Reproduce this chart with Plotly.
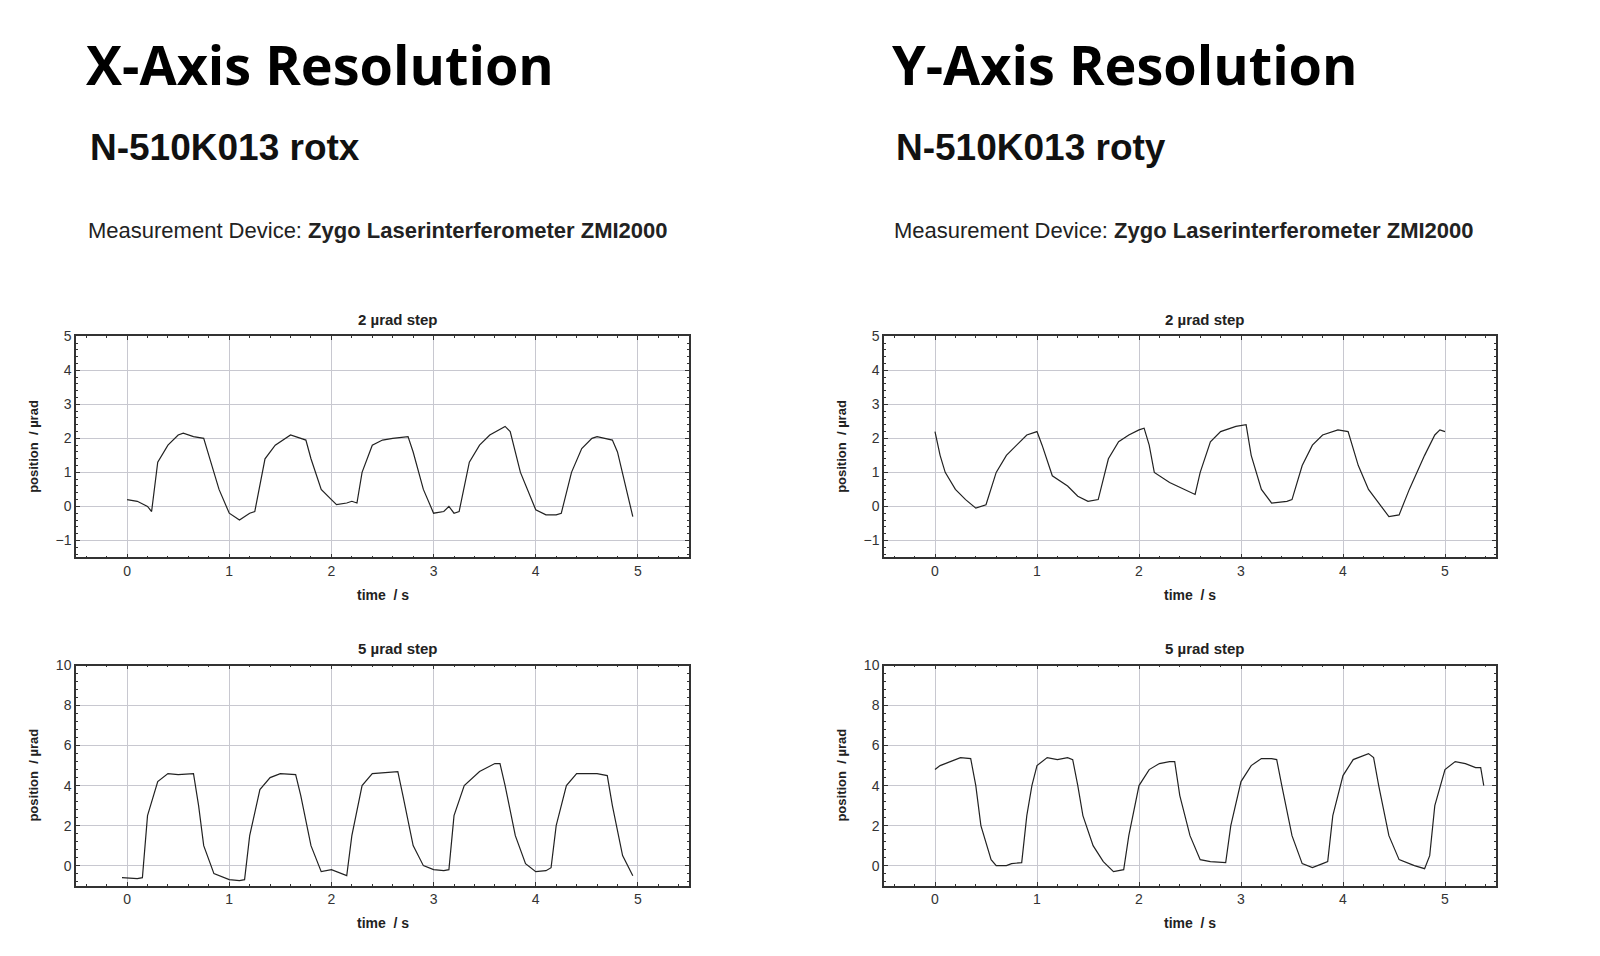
import plotly.graph_objects as go

t_x2 = [0,0.1,0.2,0.24,0.3,0.4,0.5,0.55,0.65,0.75,0.8,0.9,1.0,1.1,1.2,1.25,1.35,1.45,1.6,1.75,1.8,1.9,2.0,2.05,2.15,2.2,2.25,2.3,2.4,2.5,2.6,2.75,2.8,2.9,3.0,3.1,3.15,3.2,3.25,3.35,3.45,3.55,3.7,3.75,3.85,3.95,4.0,4.1,4.2,4.25,4.35,4.45,4.55,4.6,4.75,4.8,4.9,4.95]
p_x2 = [0.2,0.15,0.0,-0.15,1.3,1.8,2.1,2.15,2.05,2.0,1.5,0.5,-0.2,-0.4,-0.2,-0.15,1.4,1.8,2.1,1.95,1.4,0.5,0.2,0.05,0.1,0.15,0.1,1.0,1.8,1.95,2.0,2.05,1.6,0.5,-0.2,-0.15,0.0,-0.2,-0.15,1.3,1.8,2.1,2.35,2.2,1.0,0.3,-0.1,-0.25,-0.25,-0.2,1.0,1.7,2.0,2.05,1.95,1.6,0.3,-0.3]

t_x5 = [-0.05,0.1,0.15,0.2,0.3,0.4,0.5,0.6,0.65,0.7,0.75,0.85,1.0,1.1,1.15,1.2,1.3,1.4,1.5,1.65,1.7,1.8,1.9,2.0,2.1,2.15,2.2,2.3,2.4,2.6,2.65,2.7,2.8,2.9,3.0,3.1,3.15,3.2,3.3,3.45,3.6,3.65,3.7,3.8,3.9,4.0,4.1,4.15,4.2,4.3,4.4,4.6,4.7,4.75,4.85,4.95]
p_x5 = [-0.6,-0.65,-0.6,2.5,4.2,4.6,4.55,4.6,4.6,3.0,1.0,-0.4,-0.7,-0.75,-0.7,1.5,3.8,4.4,4.6,4.55,3.5,1.0,-0.3,-0.2,-0.4,-0.5,1.5,4.0,4.6,4.7,4.7,3.5,1.0,0.0,-0.2,-0.25,-0.2,2.5,4.0,4.7,5.1,5.1,4.0,1.5,0.1,-0.3,-0.25,-0.1,2.0,4.0,4.6,4.6,4.5,3.0,0.5,-0.5]

t_y2 = [0,0.05,0.1,0.2,0.3,0.4,0.5,0.6,0.7,0.8,0.9,1.0,1.05,1.15,1.3,1.4,1.5,1.6,1.7,1.8,1.9,2.0,2.05,2.1,2.15,2.3,2.45,2.55,2.6,2.7,2.8,2.95,3.05,3.1,3.2,3.3,3.45,3.5,3.6,3.7,3.8,3.95,4.05,4.15,4.25,4.35,4.45,4.55,4.65,4.8,4.9,4.95,5.0]
p_y2 = [2.2,1.5,1.0,0.5,0.2,-0.05,0.05,1.0,1.5,1.8,2.1,2.2,1.8,0.9,0.6,0.3,0.15,0.2,1.4,1.9,2.1,2.25,2.3,1.8,1.0,0.7,0.5,0.35,1.0,1.9,2.2,2.35,2.4,1.5,0.5,0.1,0.15,0.2,1.2,1.8,2.1,2.25,2.2,1.2,0.5,0.1,-0.3,-0.25,0.5,1.5,2.1,2.25,2.2]

t_y5 = [0,0.05,0.15,0.25,0.35,0.4,0.45,0.55,0.6,0.7,0.75,0.85,0.9,0.95,1.0,1.1,1.2,1.3,1.35,1.4,1.45,1.55,1.65,1.75,1.85,1.9,2.0,2.1,2.2,2.3,2.35,2.4,2.5,2.6,2.7,2.85,2.9,3.0,3.1,3.2,3.3,3.35,3.4,3.5,3.6,3.7,3.8,3.85,3.9,4.0,4.1,4.25,4.3,4.35,4.45,4.55,4.7,4.8,4.85,4.9,5.0,5.1,5.2,5.3,5.35,5.38]
p_y5 = [4.8,5.0,5.2,5.4,5.35,4.0,2.0,0.3,0.0,0.0,0.1,0.15,2.5,4.0,5.0,5.4,5.3,5.4,5.3,4.0,2.5,1.0,0.2,-0.3,-0.2,1.5,4.0,4.8,5.1,5.2,5.2,3.5,1.5,0.3,0.2,0.15,2.0,4.2,5.0,5.35,5.35,5.3,4.0,1.5,0.1,-0.1,0.1,0.2,2.5,4.5,5.3,5.6,5.4,4.0,1.5,0.3,0.0,-0.15,0.5,3.0,4.8,5.2,5.1,4.9,4.9,4.0]

W, H = 1600, 956
def px(x): return x / W
def py(y): return 1 - y / H

panels = [
    (t_x2, p_x2, 68, 681, 323, 546, [-1.5, 5], 1, "2 µrad step"),
    (t_x5, p_x5, 68, 681, 655, 877, [-1, 10], 2, "5 µrad step"),
    (t_y2, p_y2, 876, 1488, 323, 546, [-1.5, 5], 1, "2 µrad step"),
    (t_y5, p_y5, 876, 1488, 655, 877, [-1, 10], 2, "5 µrad step"),
]

fig = go.Figure()
ann = []
layout = {}

def A(text, x, y, size, family="Liberation Sans", xanchor="center", angle=0, color="#222"):
    return dict(text=text, x=px(x), y=py(y), xref="paper", yref="paper", xanchor=xanchor,
                yanchor="middle", textangle=angle, showarrow=False,
                font=dict(family=family, size=size, color=color))

for i, (t, p, x0, x1, y0, y1, yr, dt, title) in enumerate(panels, start=1):
    xa = "x" if i == 1 else f"x{i}"
    ya = "y" if i == 1 else f"y{i}"
    fig.add_trace(go.Scatter(x=t, y=p, mode="lines", xaxis=xa, yaxis=ya,
                             line=dict(color="#222", width=1.2), showlegend=False))
    axstyle = dict(showline=True, linecolor="#333", linewidth=1.5, mirror="ticks",
                   ticks="inside", ticklen=4, tickcolor="#333",
                   showgrid=True, gridcolor="#c8c8d0", gridwidth=1, zeroline=False,
                   tickfont=dict(family="Liberation Sans", size=14, color="#333"))
    layout["xaxis" if i == 1 else f"xaxis{i}"] = dict(
        domain=[px(x0), px(x1)], range=[-0.5, 5.5], dtick=1, tick0=0,
        anchor=ya, minor=dict(dtick=0.2, ticks="inside", ticklen=2, tickcolor="#333"),
        **axstyle)
    layout["yaxis" if i == 1 else f"yaxis{i}"] = dict(
        domain=[py(y1), py(y0)], range=yr, dtick=dt, tick0=0, anchor=xa,
        minor=dict(dtick=dt / 5, ticks="inside", ticklen=2, tickcolor="#333"),
        **axstyle)
    xc = (x0 + x1) / 2
    ann.append(A(f"<b>{title}</b>", xc + 15, y0 - 17, 15))
    ann.append(A("<b>time  / s</b>", xc, y1 + 38, 14))
    ann.append(A("<b>position  / µrad</b>", x0 - 42, (y0 + y1) / 2, 13, angle=-90))

for x, title, sub in [(76, "X-Axis Resolution", "N-510K013 rotx"), (882, "Y-Axis Resolution", "N-510K013 roty")]:
    ann.append(A(f"<b>{title}</b>", x, 48, 54, family="Open Sans", xanchor="left", color="#000"))
    ann.append(A(f"<b>{sub}</b>", x + 4, 133, 37, xanchor="left", color="#111"))
    ann.append(A("Measurement Device: <b>Zygo Laserinterferometer ZMI2000</b>", x + 2, 216, 22, xanchor="left"))

fig.update_layout(width=W, height=H, margin=dict(l=0, r=0, t=0, b=0),
                  paper_bgcolor="white", plot_bgcolor="white", annotations=ann, **layout)
fig.write_html("out.html")
